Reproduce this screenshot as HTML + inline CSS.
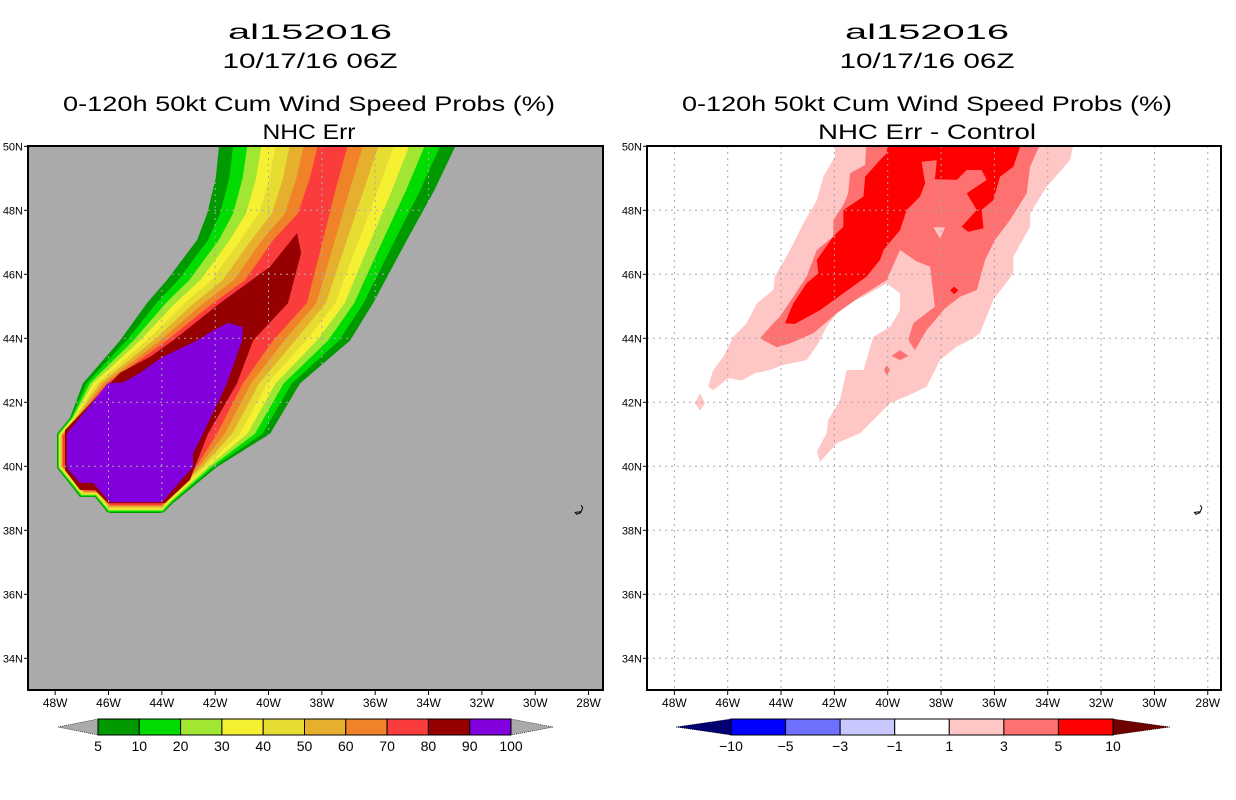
<!DOCTYPE html>
<html><head><meta charset="utf-8">
<style>
html,body{margin:0;padding:0;background:#fff;}
svg{display:block;font-family:"Liberation Sans",sans-serif;}
</style></head>
<body>
<svg id="chart" width="1236" height="800" viewBox="0 0 1236 800" xmlns="http://www.w3.org/2000/svg">
<defs>
<clipPath id="clipL"><rect x="28" y="146" width="575" height="544"/></clipPath>
<clipPath id="clipR"><rect x="647" y="146" width="574" height="544"/></clipPath>
</defs>
<g font-size="21" text-anchor="middle" fill="#000" lengthAdjust="spacingAndGlyphs">
<text x="310" y="39" textLength="164" lengthAdjust="spacingAndGlyphs">al152016</text>
<text x="310" y="68" textLength="175" lengthAdjust="spacingAndGlyphs">10/17/16 06Z</text>
<text x="309" y="111" textLength="492" lengthAdjust="spacingAndGlyphs">0-120h 50kt Cum Wind Speed Probs (%)</text>
<text x="309" y="139" textLength="93" lengthAdjust="spacingAndGlyphs">NHC Err</text>
</g>
<g font-size="21" text-anchor="middle" fill="#000">
<text x="927" y="39" textLength="164" lengthAdjust="spacingAndGlyphs">al152016</text>
<text x="927" y="68" textLength="175" lengthAdjust="spacingAndGlyphs">10/17/16 06Z</text>
<text x="927" y="111" textLength="490" lengthAdjust="spacingAndGlyphs">0-120h 50kt Cum Wind Speed Probs (%)</text>
<text x="927" y="139" textLength="218" lengthAdjust="spacingAndGlyphs">NHC Err - Control</text>
</g>
<g id="leftPanel"></g>
<g id="rightPanel"></g>
<g id="legends"></g>
</svg>
<script>
// ---- data ----
const lonTicks = [48,46,44,42,40,38,36,34,32,30,28];
const latTicks = [50,48,46,44,42,40,38,36,34];
// left: outer 5% contour and matched 70% contour (lon W, lat N)
const outer5 = [[41.82,50.3],[41.98,49.0],[42.30,47.90],[42.68,47.07],[43.81,45.82],[44.56,45.10],[45.57,43.93],[46.96,42.59],[47.44,41.52],[47.93,41.02],[47.93,39.95],[47.07,39.04],[46.51,39.04],[46.02,38.54],[43.96,38.54],[43.58,38.85],[41.93,39.98],[39.94,41.02],[38.82,42.59],[36.94,43.93],[36.08,45.10],[34.81,47.07],[33.80,48.60],[32.82,50.3]];
const inner70 = [[38.07,50.3],[38.45,49.0],[38.90,47.90],[39.83,47.07],[40.88,45.82],[42.08,45.10],[43.81,43.93],[46.06,42.59],[47.14,41.52],[47.71,40.96],[47.71,40.01],[46.88,39.23],[46.39,39.23],[45.94,38.79],[44.00,38.79],[43.77,39.04],[42.72,39.98],[41.93,41.02],[40.96,42.59],[39.83,43.93],[38.56,45.10],[37.96,47.07],[37.50,48.60],[36.94,50.3]];
const contour80 = [[38.93,47.29],[38.78,46.67],[39.27,45.10],[40.58,43.93],[41.18,42.59],[42.27,41.02],[42.76,39.98],[42.94,39.58],[43.88,38.85],[46.02,38.85],[46.51,39.26],[47.07,39.26],[47.63,39.88],[47.63,41.13],[46.02,42.53],[45.57,42.92],[44.44,43.42],[43.58,43.93],[41.82,45.10],[39.94,46.24]];
const contour90 = [[41.52,44.48],[40.96,44.35],[40.99,43.93],[41.56,42.59],[42.46,41.02],[42.83,40.40],[42.83,39.98],[43.99,38.88],[45.94,38.88],[46.58,39.48],[47.07,39.48],[47.56,39.95],[47.56,41.02],[46.02,42.59],[45.46,42.62],[44.82,42.92],[43.96,43.42],[42.68,43.93],[42.08,44.24]];
const probLevels = [5,10,20,30,40,50,60,70,80,90,100];
const probColors = ["#009a00","#00dc00","#a0e632","#f5f032","#e6dc32","#e6af2d","#f08228","#fa3c3c","#960000","#8200dc"];
// right: difference contours
const diff1 = [[41.98,50.3],[41.98,49.68],[42.41,49.05],[42.66,48.32],[43.16,47.59],[43.66,46.76],[44.23,45.93],[44.29,45.51],[44.91,45.09],[45.29,44.47],[45.79,44.05],[46.16,43.43],[46.54,43.01],[46.73,42.49],[46.54,42.38],[45.98,42.75],[45.48,42.68],[44.98,42.91],[44.41,43.01],[43.91,43.17],[43.04,43.32],[42.60,43.84],[42.29,44.36],[41.66,45.04],[40.91,45.30],[40.04,45.72],[39.54,45.41],[39.54,44.88],[39.91,44.36],[40.54,44.05],[40.91,43.01],[41.54,43.01],[41.79,42.07],[42.23,41.45],[42.29,41.03],[42.66,40.46],[42.54,40.14],[41.91,40.72],[41.04,41.03],[40.29,41.66],[39.91,41.97],[39.04,42.28],[38.54,42.49],[38.04,43.32],[37.41,43.74],[36.91,43.95],[36.54,44.16],[36.04,45.20],[35.29,46.03],[35.29,46.55],[34.66,47.49],[34.66,47.91],[34.04,48.74],[33.16,49.57],[32.98,50.3]];
const diff1Islet = [[47.23,41.97],[47.04,42.28],[46.85,41.97],[47.04,41.74]];
const diff3 = [[40.79,50.3],[40.85,49.42],[41.41,49.16],[41.48,48.53],[41.66,48.17],[42.04,47.70],[42.04,47.18],[42.66,46.76],[43.04,45.93],[43.54,45.30],[44.04,44.68],[44.29,44.47],[44.79,44.00],[44.16,43.72],[43.66,43.84],[42.79,44.16],[41.91,44.78],[41.04,45.30],[40.04,45.82],[39.54,46.76],[38.91,46.40],[38.41,46.24],[38.23,44.99],[39.04,44.47],[39.23,43.95],[38.98,43.63],[38.54,44.26],[37.85,44.94],[37.29,45.30],[36.66,45.51],[36.35,46.45],[35.98,47.07],[35.41,47.70],[34.79,48.53],[34.66,49.36],[34.16,50.3]];
const diff3Hole = [[38.29,47.47],[37.85,47.47],[38.04,47.12]];
const diff3SmallA = [[39.85,43.45],[39.54,43.63],[39.23,43.45],[39.54,43.32]];
const diff3SmallB = [[40.04,43.16],[39.91,43.01],[40.04,42.85],[40.14,43.01]];
const diff5 = [[39.98,50.3],[40.04,49.78],[40.29,49.57],[40.85,49.05],[40.91,48.43],[41.66,48.01],[41.66,47.49],[42.04,47.18],[42.66,46.45],[42.60,46.03],[43.04,45.72],[43.54,45.09],[43.85,44.47],[43.48,44.45],[42.54,44.88],[41.66,45.41],[40.79,45.93],[40.29,46.45],[40.16,46.76],[39.54,47.38],[39.29,48.01],[38.79,48.43],[38.60,48.84],[38.73,49.52],[38.16,49.57],[38.23,48.97],[37.41,48.95],[37.04,49.26],[36.48,49.26],[36.29,48.95],[37.04,48.53],[36.66,48.01],[37.23,47.49],[36.98,47.33],[36.41,47.44],[36.48,48.01],[36.04,48.32],[35.79,49.05],[35.29,49.36],[34.91,50.3]];
const diff5Small = [[37.66,45.50],[37.51,45.61],[37.35,45.50],[37.51,45.38]];
const diffLevels = ["−10","−5","−3","−1","1","3","5","10"];
const diffColors = ["#000070","#0000ff","#7070ff","#c8c8ff","#ffffff","#ffc6c6","#ff7070","#ff0000","#6e0000"];
const island = [[28.28,38.78],[28.22,38.70],[28.30,38.55],[28.45,38.50],[28.50,38.56],[28.30,38.58]];

// ---- axes ----
const NS="http://www.w3.org/2000/svg";
function mkX(x46){return lon=>x46+(46-lon)*26.67;}
function yLat(lat){return 146.3+(50-lat)*32;}
function el(tag,attrs,parent){const e=document.createElementNS(NS,tag);for(const k in attrs)e.setAttribute(k,attrs[k]);parent.appendChild(e);return e;}
function pts(arr,xf){return arr.map(p=>xf(p[0]).toFixed(1)+","+yLat(p[1]).toFixed(1)).join(" ");}

function panel(g,left,right,x46,clip,bg){
  const xf=mkX(x46);
  const body=el("g",{"clip-path":"url(#"+clip+")"},g);
  const bgr=el("rect",{x:left,y:146,width:right-left,height:544,fill:bg},body);
  
  
  return {xf,body};
}
function grid(body,xf,left,right,col){
  lonTicks.forEach(l=>{const ln=el("line",{x1:xf(l),x2:xf(l),y1:146,y2:690,stroke:col,"stroke-width":1,"stroke-dasharray":"2 4"},body);
    
    });
  latTicks.forEach(l=>{const ln=el("line",{x1:left,x2:right,y1:yLat(l),y2:yLat(l),stroke:col,"stroke-width":1,"stroke-dasharray":"2 4"},body);
    
    });
}
function frame(g,xf,left,right){
  const r=el("rect",{x:left,y:146,width:right-left,height:544,fill:"none",stroke:"#000","stroke-width":2},g);
  
  
  lonTicks.forEach(l=>{
    el("line",{x1:xf(l),x2:xf(l),y1:690,y2:695,stroke:"#000"},g);
    const t=el("text",{x:xf(l),y:707,"font-size":12,"text-anchor":"middle"},g);
    t.textContent=l+"W";
    
    
  });
  latTicks.forEach(l=>{
    el("line",{x1:left-4,x2:left,y1:yLat(l),y2:yLat(l),stroke:"#000"},g);
    const t=el("text",{x:left-5,y:yLat(l)+4,"font-size":11,"text-anchor":"end"},g);
    t.textContent=l+"N";
    
    
  });
}
function poly(body,arr,xf,fill,name){
  const p=el("polygon",{points:pts(arr,xf),fill:fill},body);
  
  
}
function islandPath(body,xf){
  const p=el("polyline",{points:pts(island,xf),fill:"none",stroke:"#000","stroke-width":1},body);
  
  
}

// left panel
const gL=document.getElementById("leftPanel");
const L=panel(gL,28,603,108.5,"clipL","#aaaaaa");
for(let k=0;k<8;k++){
  const t=k/7;
  const band=outer5.map((p,i)=>[p[0]+(inner70[i][0]-p[0])*t,p[1]+(inner70[i][1]-p[1])*t]);
  poly(L.body,band,L.xf,probColors[k],"prob-band-"+probLevels[k]);
}
poly(L.body,contour80,L.xf,probColors[8],"prob-band-80");
poly(L.body,contour90,L.xf,probColors[9],"prob-band-90");
grid(L.body,L.xf,28,603,"#ababab");
islandPath(L.body,L.xf);
frame(gL,L.xf,28,603);

// right panel
const gR=document.getElementById("rightPanel");
const R=panel(gR,647,1221,727.7,"clipR","#ffffff");
poly(R.body,diff1,R.xf,diffColors[5],"diff-band-1");
poly(R.body,diff1Islet,R.xf,diffColors[5],"diff-band-1-islet");
poly(R.body,diff3,R.xf,diffColors[6],"diff-band-3");
poly(R.body,diff3Hole,R.xf,diffColors[5],"diff-band-3-hole");
poly(R.body,diff3SmallA,R.xf,diffColors[6],"diff-band-3-small-a");
poly(R.body,diff3SmallB,R.xf,diffColors[6],"diff-band-3-small-b");
poly(R.body,diff5,R.xf,diffColors[7],"diff-band-5");
poly(R.body,diff5Small,R.xf,diffColors[7],"diff-band-5-small");
grid(R.body,R.xf,647,1221,"#a8a8a8");
islandPath(R.body,R.xf);
frame(gR,R.xf,647,1221);

// legends
const gLeg=document.getElementById("legends");
function colorbar(x0,x1,tipL,tipR,cols,labels,name){
  const g=el("g",{},gLeg);
  
  
  const n=cols.length-2, w=(x1-x0)/n, y0=719, y1=735, ym=727;
  el("polygon",{points:`${tipL},${ym} ${x0},${y0} ${x0},${y1}`,fill:cols[0],stroke:"#000","stroke-width":0.6,"stroke-dasharray":"1 1"},g);
  el("polygon",{points:`${tipR},${ym} ${x1},${y0} ${x1},${y1}`,fill:cols[cols.length-1],stroke:"#000","stroke-width":0.6,"stroke-dasharray":"1 1"},g);
  for(let i=0;i<n;i++){
    const r=el("rect",{x:x0+i*w,y:y0,width:w,height:y1-y0,fill:cols[i+1],stroke:"#000","stroke-width":1},g);
    
    
  }
  labels.forEach((lb,i)=>{
    const t=el("text",{x:x0+i*w,y:751,"font-size":14,"text-anchor":"middle"},g);
    t.textContent=lb;
    
    
  });
}
colorbar(98,511,58,553,["#aaaaaa"].concat(probColors,["#aaaaaa"]),probLevels.map(String),"prob-colorbar");
colorbar(731,1113,676,1170,diffColors,diffLevels,"diff-colorbar");
</script>
</body></html>
